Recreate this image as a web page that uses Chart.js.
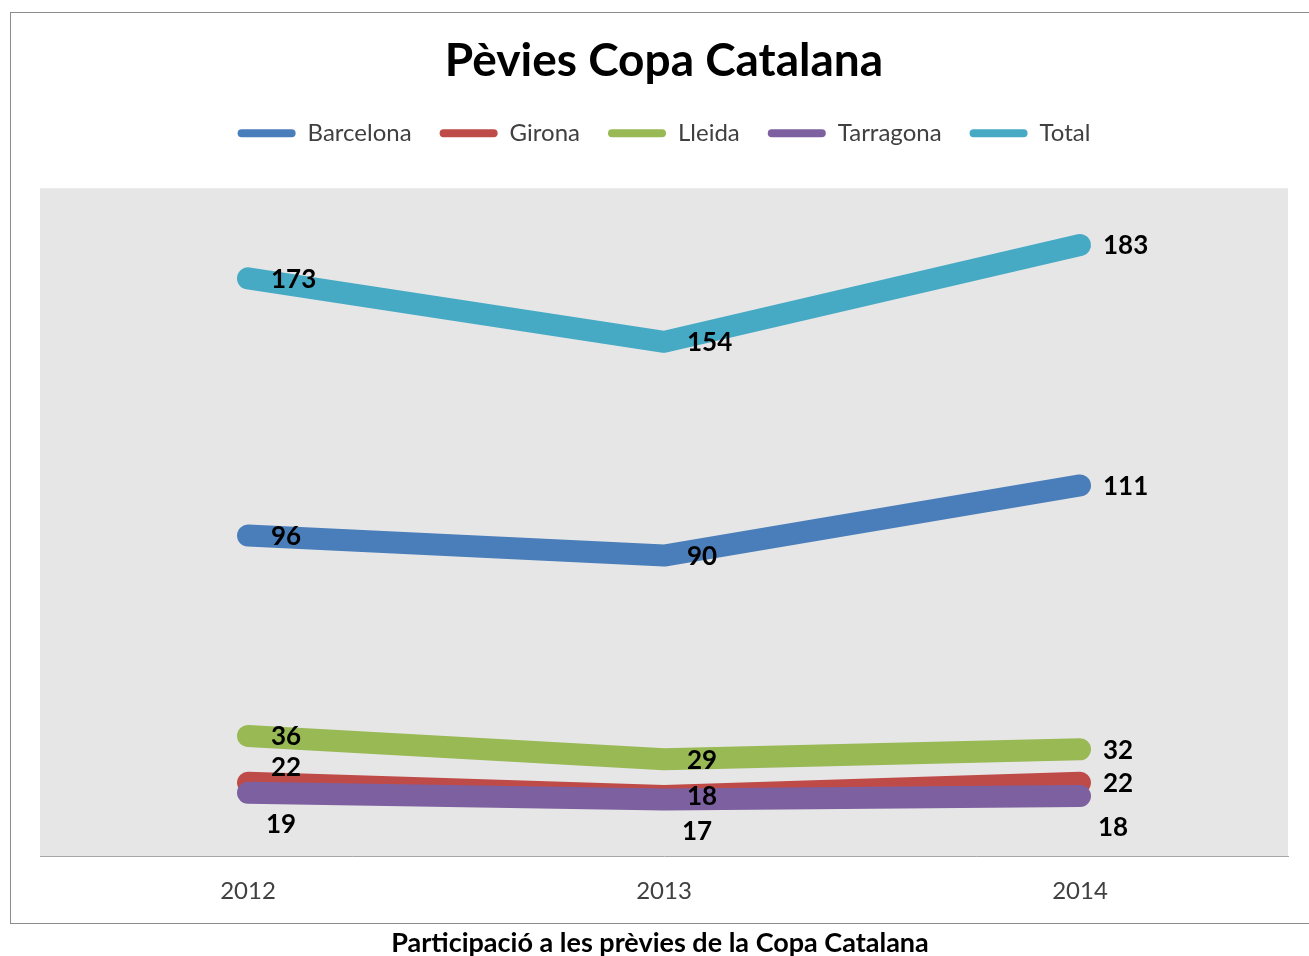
<!DOCTYPE html>
<html>
<head>
<meta charset="utf-8">
<script src="https://cdn.jsdelivr.net/npm/chart.js@4.4.0/dist/chart.umd.min.js"></script>
<style>
  body { margin: 0; background: #fff; font-family: Lato, "Open Sans", sans-serif; }
  #frame {
    position: absolute; left: 10px; top: 12px;
    width: 1299px; height: 912px;
    box-sizing: border-box; border: 1px solid #8c8c8c; border-right: none;
  }
  #wrap { position: relative; width: 1298px; height: 914px; }
  #caption {
    position: absolute; left: 0; top: 925px; width: 1320px;
    text-align: center; font-weight: bold; font-size: 27px; color: #000;
    font-family: Lato, "Open Sans", sans-serif;
  }
</style>
</head>
<body>
<div id="frame"><div id="wrap"><canvas id="chart"></canvas></div></div>
<div id="caption">Participació a les prèvies de la Copa Catalana</div>
<script>
// Data
const years = ['2012', '2013', '2014'];
const barcelona = [96, 90, 111];
const girona = [22, 18, 22];
const lleida = [36, 29, 32];
const tarragona = [19, 17, 18];
const total = [173, 154, 183];

const colors = {
    barcelona: '#4a7ebb',
    girona: '#be4b48',
    lleida: '#98b954',
    tarragona: '#7d60a0',
    total: '#46aac5'
};

// where each value label sits relative to its point
const labelSpots = {
    Barcelona: ['right', 'right', 'right'],
    Girona: ['above', 'right', 'right'],
    Lleida: ['right', 'right', 'right'],
    Tarragona: ['below', 'below', 'below'],
    Total: ['right', 'right', 'right']
};

function line(label, data, color, order) {
    return {
        label: label,
        data: data,
        borderColor: color,
        backgroundColor: color,
        borderWidth: 22,
        borderCapStyle: 'round',
        borderJoinStyle: 'round',
        pointRadius: 0,
        pointHoverRadius: 0,
        tension: 0,
        order: order
    };
}

// grey plot area
const plotBg = {
    id: 'plotBg',
    beforeDraw(chart) {
        const a = chart.chartArea;
        const ctx = chart.ctx;
        ctx.save();
        ctx.fillStyle = '#e6e6e6';
        ctx.fillRect(a.left, a.top, a.right - a.left, a.bottom - a.top);
        ctx.restore();
    }
};

// value labels next to the points
const valueLabels = {
    id: 'valueLabels',
    afterDatasetsDraw(chart) {
        const ctx = chart.ctx;
        ctx.save();
        ctx.font = 'bold 26px Lato, "Open Sans", sans-serif';
        ctx.fillStyle = '#000';
        ctx.textBaseline = 'middle';
        ctx.textAlign = 'left';
        chart.data.datasets.forEach((ds, i) => {
            const meta = chart.getDatasetMeta(i);
            const spots = labelSpots[ds.label];
            meta.data.forEach((pt, j) => {
                let x = pt.x + 23, y = pt.y + 1;
                if (spots[j] === 'above') { y = pt.y - 15; }
                if (spots[j] === 'below') { x = pt.x + 18; y = pt.y + 32; }
                ctx.fillText(ds.data[j], x, y);
            });
        });
        ctx.restore();
    }
};

// extra room under the legend
const legendGap = {
    id: 'legendGap',
    beforeInit(chart) {
        const fit = chart.legend.fit;
        chart.legend.fit = function () {
            fit.call(this);
            this.height += 33;
        };
    }
};

new Chart(document.getElementById('chart'), {
    type: 'line',
    data: {
        labels: years,
        datasets: [
            line('Barcelona', barcelona, colors.barcelona, 1),
            line('Girona', girona, colors.girona, 2),
            line('Lleida', lleida, colors.lleida, 1),
            line('Tarragona', tarragona, colors.tarragona, 1),
            line('Total', total, colors.total, 1)
        ]
    },
    options: {
        responsive: true,
        maintainAspectRatio: false,
        animation: false,
        layout: { padding: { top: 0, left: 29, right: 21, bottom: 0 } },
        scales: {
            x: {
                offset: true,
                grid: { display: false, drawTicks: false },
                border: { display: true, color: '#a6a6a6', width: 1 },
                ticks: {
                    color: '#404040',
                    padding: 21,
                    font: { family: 'Lato, "Open Sans", sans-serif', size: 24 }
                }
            },
            y: {
                display: false,
                min: 0,
                max: 200
            }
        },
        plugins: {
            title: {
                display: true,
                text: 'Pèvies Copa Catalana',
                color: '#000',
                padding: { top: 21, bottom: 4 },
                font: { family: 'Lato, "Open Sans", sans-serif', size: 46, weight: 'bold' }
            },
            legend: {
                display: true,
                labels: {
                    color: '#404040',
                    boxWidth: 58,
                    boxHeight: 8,
                    useBorderRadius: true,
                    borderRadius: 4,
                    padding: 28,
                    font: { family: 'Lato, "Open Sans", sans-serif', size: 24 },
                    generateLabels(chart) {
                        return chart.data.datasets.map((ds, i) => ({
                            text: ds.label,
                            fillStyle: ds.borderColor,
                            strokeStyle: ds.borderColor,
                            lineWidth: 0,
                            borderRadius: 4,
                            fontColor: '#404040',
                            hidden: false,
                            datasetIndex: i
                        }));
                    }
                }
            },
            tooltip: { enabled: false }
        }
    },
    plugins: [plotBg, valueLabels, legendGap]
});
</script>
</body>
</html>
